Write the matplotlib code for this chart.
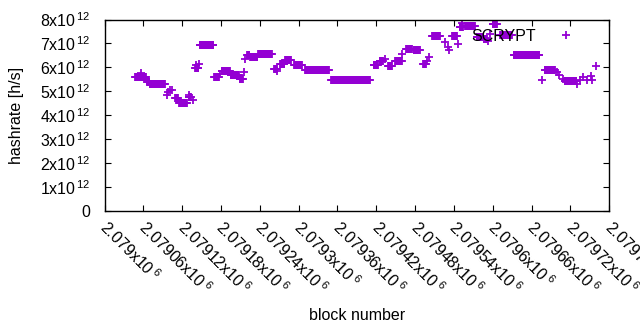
import matplotlib
matplotlib.use('Agg')
import matplotlib.pyplot as plt
import matplotlib.transforms as mtransforms
import numpy as np

plt.rcParams['font.family'] = ['Liberation Sans', 'DejaVu Sans']
plt.rcParams['mathtext.fontset'] = 'custom'
plt.rcParams['mathtext.rm'] = 'Liberation Sans'
plt.rcParams['mathtext.it'] = 'Liberation Sans'

# Runs of blocks with (nearly) constant hashrate, values in 1e12 h/s
run_start = [2079047, 2079057, 2079066, 2079070, 2079096, 2079098, 2079101, 2079104, 2079109, 2079115,
             2079130, 2079131, 2079137, 2079140, 2079141, 2079146, 2079147, 2079169, 2079178, 2079181,
             2079195, 2079209, 2079215, 2079217, 2079220, 2079225, 2079237, 2079262, 2079267, 2079271,
             2079279, 2079293, 2079310, 2079350, 2079368, 2079416, 2079425, 2079433, 2079438, 2079449,
             2079460, 2079466, 2079478, 2079492, 2079498, 2079502, 2079506, 2079526, 2079530, 2079533,
             2079537, 2079546, 2079549, 2079552, 2079557, 2079575, 2079586, 2079592, 2079595, 2079600,
             2079611, 2079632, 2079676, 2079680, 2079699, 2079702, 2079708, 2079711, 2079730, 2079735,
             2079739, 2079745, 2079751, 2079753, 2079760]
run_end = [2079064, 2079057, 2079069, 2079093, 2079096, 2079098, 2079101, 2079104, 2079113, 2079127,
           2079133, 2079131, 2079137, 2079145, 2079141, 2079146, 2079168, 2079177, 2079178, 2079194,
           2079208, 2079214, 2079215, 2079217, 2079224, 2079236, 2079259, 2079266, 2079267, 2079278,
           2079288, 2079305, 2079347, 2079367, 2079410, 2079422, 2079430, 2079433, 2079444, 2079459,
           2079460, 2079475, 2079487, 2079496, 2079498, 2079502, 2079518, 2079526, 2079530, 2079533,
           2079544, 2079546, 2079554, 2079552, 2079572, 2079584, 2079591, 2079592, 2079595, 2079606,
           2079629, 2079672, 2079676, 2079696, 2079699, 2079702, 2079708, 2079729, 2079730, 2079735,
           2079739, 2079745, 2079751, 2079753, 2079760]
run_value = [5.60, 5.75, 5.37, 5.32, 4.83, 4.96, 5.04, 5.07, 4.70, 4.53,
             4.76, 4.86, 4.62, 5.97, 6.08, 6.15, 6.94, 5.60, 5.72, 5.84,
             5.67, 5.53, 5.80, 6.36, 6.53, 6.43, 6.57, 5.95, 5.85, 6.15,
             6.32, 6.08, 5.87, 5.49, 5.46, 6.11, 6.25, 6.35, 6.04, 6.25,
             6.54, 6.78, 6.71, 6.15, 6.25, 6.43, 7.33, 7.05, 6.85, 6.74,
             7.33, 6.99, 7.68, 7.86, 7.71, 7.26, 7.19, 7.12, 7.40, 7.82,
             7.36, 6.50, 5.49, 5.87, 5.80, 5.67, 5.53, 5.43, 5.30, 5.46,
             5.60, 5.49, 5.62, 5.46, 6.04]

xticks = [2079000 + 60 * k for k in range(14)]
xtick_labels = ['2.079', '2.07906', '2.07912', '2.07918', '2.07924', '2.0793', '2.07936',
                '2.07942', '2.07948', '2.07954', '2.0796', '2.07966', '2.07972', '2.07978']
yticks = [0, 1, 2, 3, 4, 5, 6, 7, 8]
series_label = 'SCRYPT'

blocks, rates = [], []
for s, e, v in zip(run_start, run_end, run_value):
    b = list(range(s, e + 1))
    blocks.extend(b)
    rates.extend([v * 1e12] * len(b))

fig = plt.figure(figsize=(6.4, 3.3), dpi=100)
ax = fig.add_axes([104.5 / 640, 1 - 211 / 330, (609.3 - 104.5) / 640, (211 - 19.5) / 330])
color = '#9400d3'
ax.plot(blocks, rates, linestyle='none', marker='+', markersize=6.0, markeredgewidth=1.3,
        color=color, label=series_label)

ax.set_xlim(2079000, 2079780)
ax.set_ylim(0, 8e12)
ax.set_xticks(xticks)
ax.set_xticklabels([])
offset = mtransforms.ScaledTranslation(5 / 100, -6 / 100, fig.dpi_scale_trans)
for xv, t in zip(xticks, xtick_labels):
    ax.text(xv, 0, r'$\mathregular{%sx10^{\;6}}$' % t, transform=ax.get_xaxis_transform() + offset,
            rotation=-45, ha='left', va='top', rotation_mode='anchor', fontsize=11.5,
            clip_on=False)
ax.set_yticks([v * 1e12 for v in yticks])
ax.set_yticklabels(['0' if v == 0 else r'$\mathregular{%dx10^{\,12}}$' % v for v in yticks])
ax.tick_params(direction='in', length=4, top=True, right=True, labelsize=11.5, colors='black')
ax.tick_params(axis='y', pad=10)
for sp in ax.spines.values():
    sp.set_linewidth(1.0)

ax.set_xlabel('block number', fontsize=11.5)
ax.set_ylabel('hashrate [h/s]', fontsize=11.5)
ax.xaxis.set_label_coords(0.5, -0.505)
ax.yaxis.set_label_coords(-0.16, 0.5)

ax.legend(loc='upper right', bbox_to_anchor=(0.972, 1.0), frameon=False, markerfirst=False,
          fontsize=11.5, handlelength=2.5, handletextpad=0.6, borderaxespad=0.2)

fig.savefig('out.png', dpi=100)
